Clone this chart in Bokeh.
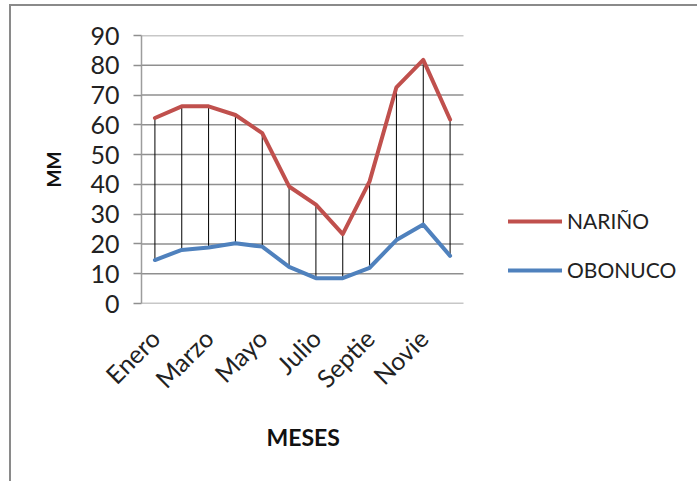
from math import pi

from bokeh.plotting import figure
from bokeh.models import (Legend, LegendItem, FixedTicker, Range1d,
                          ColumnDataSource, Title)
from bokeh.embed import file_html
from bokeh.resources import INLINE

# Monthly rainfall (mm) at two stations
months = ["Enero", "Febrero", "Marzo", "Abril", "Mayo", "Junio",
          "Julio", "Agosto", "Septie", "Octubre", "Novie", "Diciembre"]
narino = [62.3, 66.2, 66.2, 63.3, 57.2, 39.3, 33.2, 23.3, 41.0, 72.6, 81.8, 61.8]
obonuco = [14.6, 18.0, 18.8, 20.2, 19.1, 12.3, 8.5, 8.5, 12.0, 21.3, 26.5, 16.0]
y_ticks = [0, 10, 20, 30, 40, 50, 60, 70, 80, 90]
series_names = ["NARIÑO", "OBONUCO"]

FONT = "Lato"
GRID = "#8f8f8f"
AXIS = "#9d9d9d"

# plotting area is 322 px wide for the 12 months; the frame is widened to the
# right so that the legend can sit beside the plotting area
PLOT_W = 322
FRAME_W = 558
n = len(months)
x_end = n * FRAME_W / PLOT_W

# category centres on a numeric axis
xs = [i + 0.5 for i in range(n)]
src = ColumnDataSource(dict(x=xs, narino=narino, obonuco=obonuco))
grid_src = ColumnDataSource(dict(y=y_ticks, x0=[0] * len(y_ticks), x1=[n] * len(y_ticks)))

p = figure(width=688, height=477, output_backend="svg", toolbar_location=None,
           x_range=Range1d(0, x_end), y_range=Range1d(0, 90),
           min_border_left=130, min_border_right=0,
           min_border_top=29, min_border_bottom=180,
           background_fill_color="white", border_fill_color="white")
p.margin = (4, 0, 0, 9)
p.styles = {"border-left": "2px solid #8a8a8a", "border-top": "2px solid #8a8a8a"}
p.outline_line_color = None

# horizontal gridlines across the months only
p.xgrid.grid_line_color = None
p.ygrid.grid_line_color = None
p.segment(x0="x0", y0="y", x1="x1", y1="y", source=grid_src,
          line_color=GRID, line_width=1.5)

# high-low drop lines between the two series
p.segment(x0="x", y0="obonuco", x1="x", y1="narino", source=src,
          line_color="black", line_width=1)

r1 = p.line("x", "narino", source=src, line_color="#C0504D", line_width=4,
            line_join="round", line_cap="round")
r2 = p.line("x", "obonuco", source=src, line_color="#4F81BD", line_width=4,
            line_join="round", line_cap="round")

# y axis
p.yaxis.ticker = FixedTicker(ticks=y_ticks)
p.yaxis.axis_label = "MM"
p.yaxis.axis_label_text_font = FONT
p.yaxis.axis_label_text_font_style = "bold"
p.yaxis.axis_label_text_font_size = "19px"
p.yaxis.axis_label_text_color = "#111111"
p.yaxis.axis_label_standoff = 22
p.yaxis.major_label_text_font = FONT
p.yaxis.major_label_text_font_size = "25px"
p.yaxis.major_label_text_color = "#222222"
p.yaxis.major_label_standoff = 14
p.yaxis.axis_line_color = AXIS
p.yaxis.axis_line_width = 1.5
p.yaxis.major_tick_line_color = GRID
p.yaxis.major_tick_line_width = 1.5
p.yaxis.major_tick_out = 8
p.yaxis.major_tick_in = 0
p.yaxis.minor_tick_line_color = None

# x axis: every other month labelled
shown = list(range(0, n, 2))
p.xaxis.ticker = FixedTicker(ticks=[xs[i] for i in shown])
p.xaxis.major_label_overrides = {xs[i]: months[i] for i in shown}
p.xaxis.major_label_orientation = pi / 4
p.xaxis.major_label_text_font = FONT
p.xaxis.major_label_text_font_size = "25px"
p.xaxis.major_label_text_color = "#222222"
p.xaxis.major_label_standoff = 30
p.xaxis.axis_line_color = None
p.xaxis.major_tick_out = 0
p.xaxis.major_tick_in = 0
p.xaxis.minor_tick_line_color = None

# x-axis title, centred under the months (not under the widened frame)
p.add_layout(Title(text="MESES", align="left", offset=125, standoff=28,
                   text_font=FONT, text_font_size="23px",
                   text_font_style="bold", text_color="#111111"), "below")

legend = Legend(items=[LegendItem(label=series_names[0], renderers=[r1]),
                       LegendItem(label=series_names[1], renderers=[r2])],
                location=(367, 21), orientation="vertical",
                border_line_alpha=0, background_fill_alpha=0,
                padding=0, margin=0, spacing=24,
                glyph_width=54, glyph_height=24, label_height=24,
                label_standoff=5, label_text_font=FONT,
                label_text_font_size="21px", label_text_color="#222222")
p.add_layout(legend, "center")

open("out.html", "w").write(file_html(p, INLINE))
